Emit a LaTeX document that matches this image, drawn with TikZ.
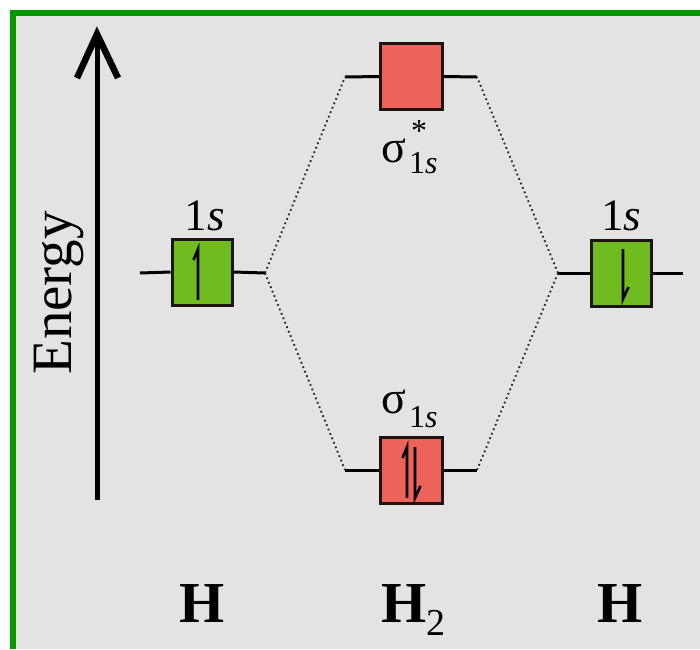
\documentclass[tikz,border=0pt]{standalone}
\usepackage{fontspec}
\setmainfont{Liberation Serif}
\definecolor{bgc}{RGB}{227,227,227}
\definecolor{frame}{RGB}{0,153,0}
\definecolor{boxgreen}{RGB}{112,188,32}
\definecolor{boxred}{RGB}{238,98,92}
\definecolor{edge}{RGB}{30,20,15}
\begin{document}
\begin{tikzpicture}[x=1pt,y=-1pt,
  level/.style={line width=3pt,black},
  corr/.style={line width=1.9pt,gray!35!black,dash pattern=on 1.8pt off 3pt},
  orb/.style={draw=edge,line width=3pt,inner sep=0pt,minimum width=60pt,minimum height=66pt},
  ao/.style={orb,fill=boxgreen},
  mo/.style={orb,fill=boxred,minimum width=62pt},
  spin/.style={line width=2.6pt,black,line cap=butt},
  lbl/.style={inner sep=0pt,font=\fontsize{45}{50}\selectfont},
  big/.style={inner sep=0pt,font=\fontsize{58}{62}\selectfont\bfseries}]
\useasboundingbox (0,0) rectangle (700,649);
\fill[white] (0,0) rectangle (700,649);
\fill[bgc] (13,13) rectangle (700,649);
\draw[frame,line width=6pt] (13,649) -- (13,13) -- (700,13);
% energy axis
\coordinate (ebot) at (97,500);
\coordinate (etop) at (97,34);
\coordinate (ewl) at (77,78);
\coordinate (ewr) at (118,78);
\draw[line width=5pt] (ebot) -- (97,40);
\draw[line width=6.5pt,miter limit=10] (ewl) -- (etop) -- (ewr);
\node[rotate=90,anchor=base,inner sep=0pt,font=\fontsize{57}{60}\selectfont] (en) at (71,293) {Energy};
% level coordinates
\coordinate (LL1) at (140,273); \coordinate (LL2) at (265,273);
\coordinate (RL1) at (558,273); \coordinate (RL2) at (683,273);
\coordinate (TL1) at (345,77);  \coordinate (TL2) at (477,77);
\coordinate (BL1) at (345,470); \coordinate (BL2) at (477,470);
% correlation lines
\draw[corr] (LL2) -- (TL1);
\draw[corr] (LL2) -- (BL1);
\draw[corr] (RL1) -- (TL2);
\draw[corr] (RL1) -- (BL2);
% boxes
\node[ao] (L) at (202,272) {};
\node[ao] (R) at (621,273) {};
\node[mo] (T) at (411.5,76.5) {};
\node[mo] (B) at (411.5,470) {};
% level lines
\draw[level] (LL1) -- (L.west); \draw[level] (L.east) -- (LL2);
\draw[level] (RL1) -- (R.west); \draw[level] (R.east) -- (RL2);
\draw[level] (TL1) -- (T.west); \draw[level] (T.east) -- (TL2);
\draw[level] (BL1) -- (B.west); \draw[level] (B.east) -- (BL2);
% spins
\draw[spin] (198,300) -- (198,249) -- (193.5,260);
\draw[spin] (623,249) -- (623,299) -- (628.5,287);
\draw[spin] (407,498) -- (407,447) -- (402.5,458);
\draw[spin] (415,447) -- (415,498) -- (420.5,486);
% labels
\node[lbl,anchor=base] (l1s) at (205,230) {1\textit{s}};
\node[lbl,anchor=base] (r1s) at (621,230) {1\textit{s}};
\node[inner sep=0pt,anchor=base west,font=\fontsize{46}{50}\selectfont] (sst) at (381,162)
  {σ\rlap{\hspace{5pt}\raisebox{21pt}{\fontsize{32}{32}\selectfont *}}\hspace{3pt}\raisebox{-11pt}{\fontsize{32}{32}\selectfont 1\textit{s}}};
\node[inner sep=0pt,anchor=base west,font=\fontsize{46}{50}\selectfont] (sb) at (381,413)
  {σ\hspace{3pt}\raisebox{-14pt}{\fontsize{32}{32}\selectfont 1\textit{s}}};
\node[big,anchor=base] (hl) at (202,622) {H};
\node[big,anchor=base west] (h2) at (381,622) {H\raisebox{-13pt}{\fontsize{38}{38}\selectfont\mdseries 2}};
\node[big,anchor=base] (hr) at (620,622) {H};
\end{tikzpicture}
\end{document}
